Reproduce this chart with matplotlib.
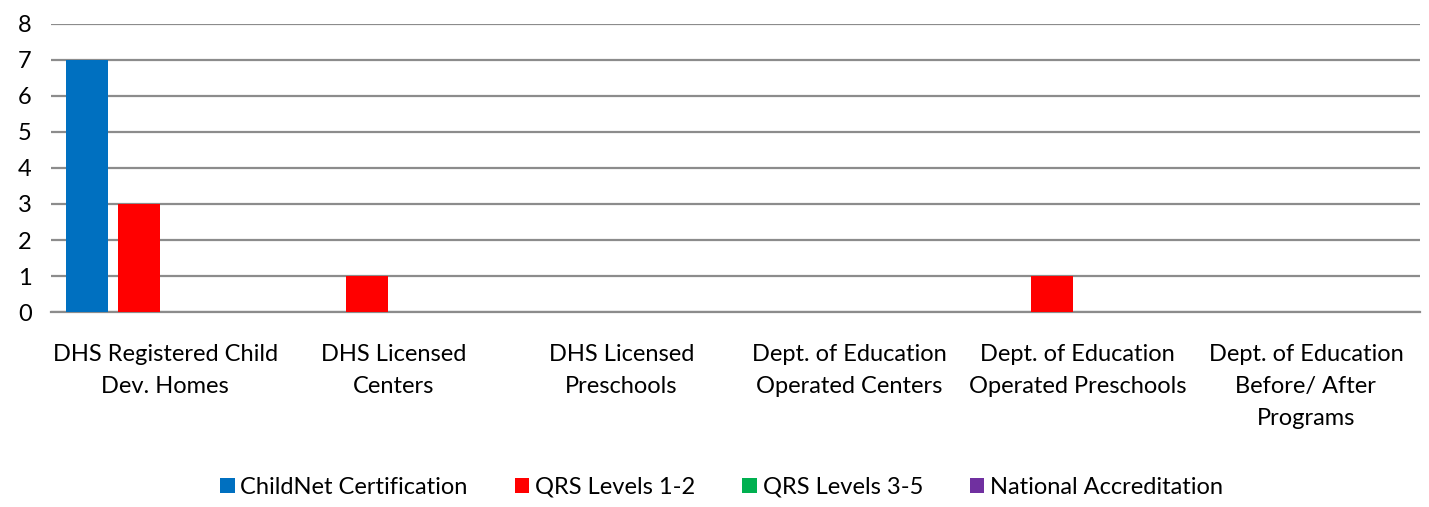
import numpy as np
import matplotlib.pyplot as plt

plt.rcParams['font.family'] = ['Lato', 'DejaVu Sans']

categories = ['DHS Registered Child\nDev. Homes', 'DHS Licensed\nCenters', 'DHS Licensed\nPreschools',
              'Dept. of Education\nOperated Centers', 'Dept. of Education\nOperated Preschools',
              'Dept. of Education\nBefore/ After\nPrograms']
series = ['ChildNet Certification', 'QRS Levels 1-2', 'QRS Levels 3-5', 'National Accreditation']
childnet = [7, 0, 0, 0, 0, 0]
qrs_1_2 = [3, 1, 0, 0, 1, 0]
qrs_3_5 = [0, 0, 0, 0, 0, 0]
national = [0, 0, 0, 0, 0, 0]
colors = ['#0070c0', '#ff0000', '#00b050', '#7030a0']

fig = plt.figure(figsize=(14.29, 5.07), dpi=100)
ax = fig.add_axes([0.0357, 0.3846, 0.958, 0.5681])

x = np.arange(len(categories))
width = 0.184
step = 0.228
for i, (vals, name, c) in enumerate(zip([childnet, qrs_1_2, qrs_3_5, national], series, colors)):
    ax.bar(x + (i - 1.5) * step, vals, width, color=c, label=name, zorder=3)

ax.set_xlim(-0.5, len(categories) - 0.5)
ax.set_ylim(0, 8)
ax.set_yticks(range(0, 9))
ax.yaxis.grid(True, color='#8c8c8c', linewidth=1.6, zorder=0)
for s in ['top', 'right', 'left']:
    ax.spines[s].set_visible(False)
ax.spines['bottom'].set_color('#8c8c8c')
ax.spines['bottom'].set_linewidth(1.6)
ax.tick_params(length=0, labelsize=17)
ax.tick_params(axis='y', pad=14)
ax.set_xticks(x)
ax.set_xticklabels(categories, fontsize=17, linespacing=1.65)
ax.tick_params(axis='x', pad=23)

ax.legend(loc='center', bbox_to_anchor=(0.49, -0.608), ncol=4, frameon=False, fontsize=17,
          handlelength=0.6, handleheight=0.6, handletextpad=0.25, columnspacing=2.0)

fig.savefig('out.png', dpi=100)
